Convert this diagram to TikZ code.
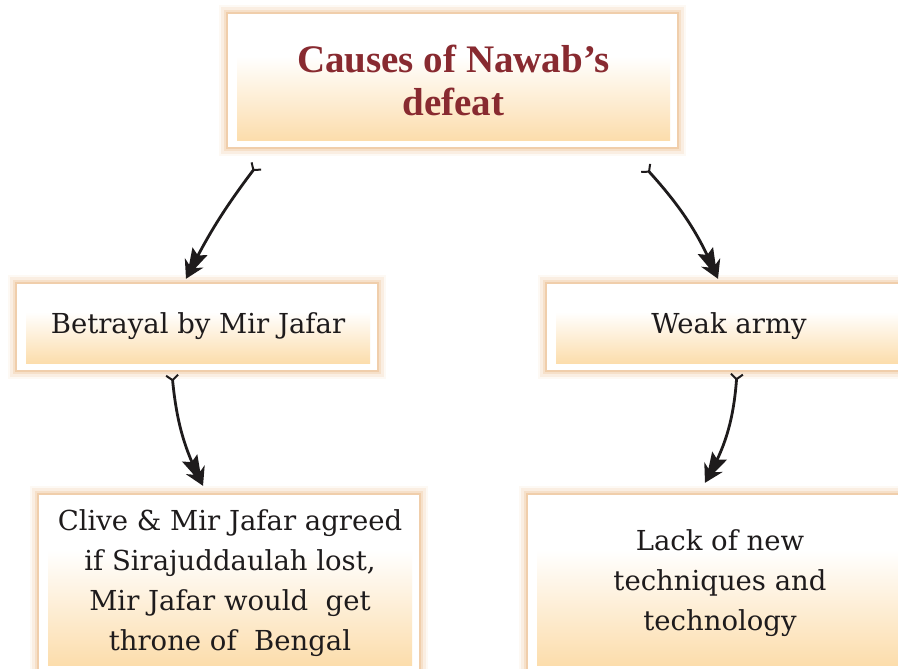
\documentclass[tikz,border=0pt]{standalone}
\usepackage{fontspec}
\setmainfont{DejaVu Serif}
\newfontfamily\titlefont{Liberation Serif}
\usetikzlibrary{arrows.meta,calc,backgrounds,decorations.markings}

\definecolor{peachbot}{RGB}{252,221,172}
\definecolor{halo}{RGB}{236,192,146}
\definecolor{titlered}{RGB}{136,42,48}
\definecolor{ink}{RGB}{30,27,28}

% white at the top, fading to peach towards the bottom
\pgfdeclareverticalshading{peachfade}{100bp}{color(0bp)=(peachbot); color(25bp)=(peachbot); color(60bp)=(white); color(100bp)=(white)}

\tikzset{
  panel/.style={shade, shading=peachfade, draw=none, inner sep=0pt, align=center, text=ink,
    font=\fontsize{27.5}{40}\selectfont},
  titlepanel/.style={panel, text=titlered, font=\titlefont\bfseries\fontsize{39}{43}\selectfont},
  fletch/.tip={Straight Barb[reversed,length=5pt,width=12pt,line width=2pt]},
  % double-barbed dart head placed at the end of the connector
  conn/.style={draw=ink, line width=2.8pt, fletch-, shorten >=15pt,
    postaction={decorate, decoration={markings, mark=at position 1 with {
      \fill[ink] (0,0) -- (-18,10.5) -- (-14,3.6) -- (-31,8.5) -- (-27,1.4)
        -- (-27,-1.4) -- (-31,-8.5) -- (-14,-3.6) -- (-18,-10.5) -- cycle;}}}},
}

\begin{document}
\begin{tikzpicture}[x=1pt,y=-1pt]
\useasboundingbox (0,0) rectangle (898,669);

\node[titlepanel, minimum width=433pt, minimum height=120pt] (top) at (453.5,80) {Causes of Nawab’s\\defeat};
\node[panel, minimum width=344pt, minimum height=73pt] (bj) at (198,326.5) {Betrayal by Mir Jafar};
\node[panel, minimum width=346pt, minimum height=73pt] (wa) at (729,326.5) {Weak army};
\node[panel, minimum width=364pt, minimum height=164pt] (cl) at (230,583) {Clive \& Mir Jafar agreed\\if Sirajuddaulah lost,\\Mir Jafar would~ get\\throne of~ Bengal};
\node[panel, minimum width=366pt, minimum height=164pt] (lt) at (720,583) {Lack of new\\techniques and\\technology};

% white frames with a soft peach halo
\begin{scope}[on background layer]
\foreach \n in {top,bj,wa,cl,lt}{
  \foreach \w/\o in {18/0.1,13/0.18,8/0.32,4/0.55}
    \draw[halo, line width=\w pt, opacity=\o] ($(\n.north west)+(-9,-6)$) rectangle ($(\n.south east)+(7,7)$);
  \fill[white] ($(\n.north west)+(-9,-6)$) rectangle ($(\n.south east)+(7,7)$);
}
\end{scope}

% connectors
\draw[conn] ($(top.south)+(-196.5,25)$) to[bend right=5] ($(bj.north)+(-12,-11)$);
\draw[conn] ($(top.south)+(191.5,27)$) to[bend left=9] ($(wa.north)+(-11,-11)$);
\draw[conn] ($(bj.south)+(-26,11)$) to[bend right=10] ($(cl.north)+(-27,-15)$);
\draw[conn] ($(wa.south)+(8,10)$) to[bend left=12] ($(lt.north)+(-15,-18)$);
\end{tikzpicture}
\end{document}
